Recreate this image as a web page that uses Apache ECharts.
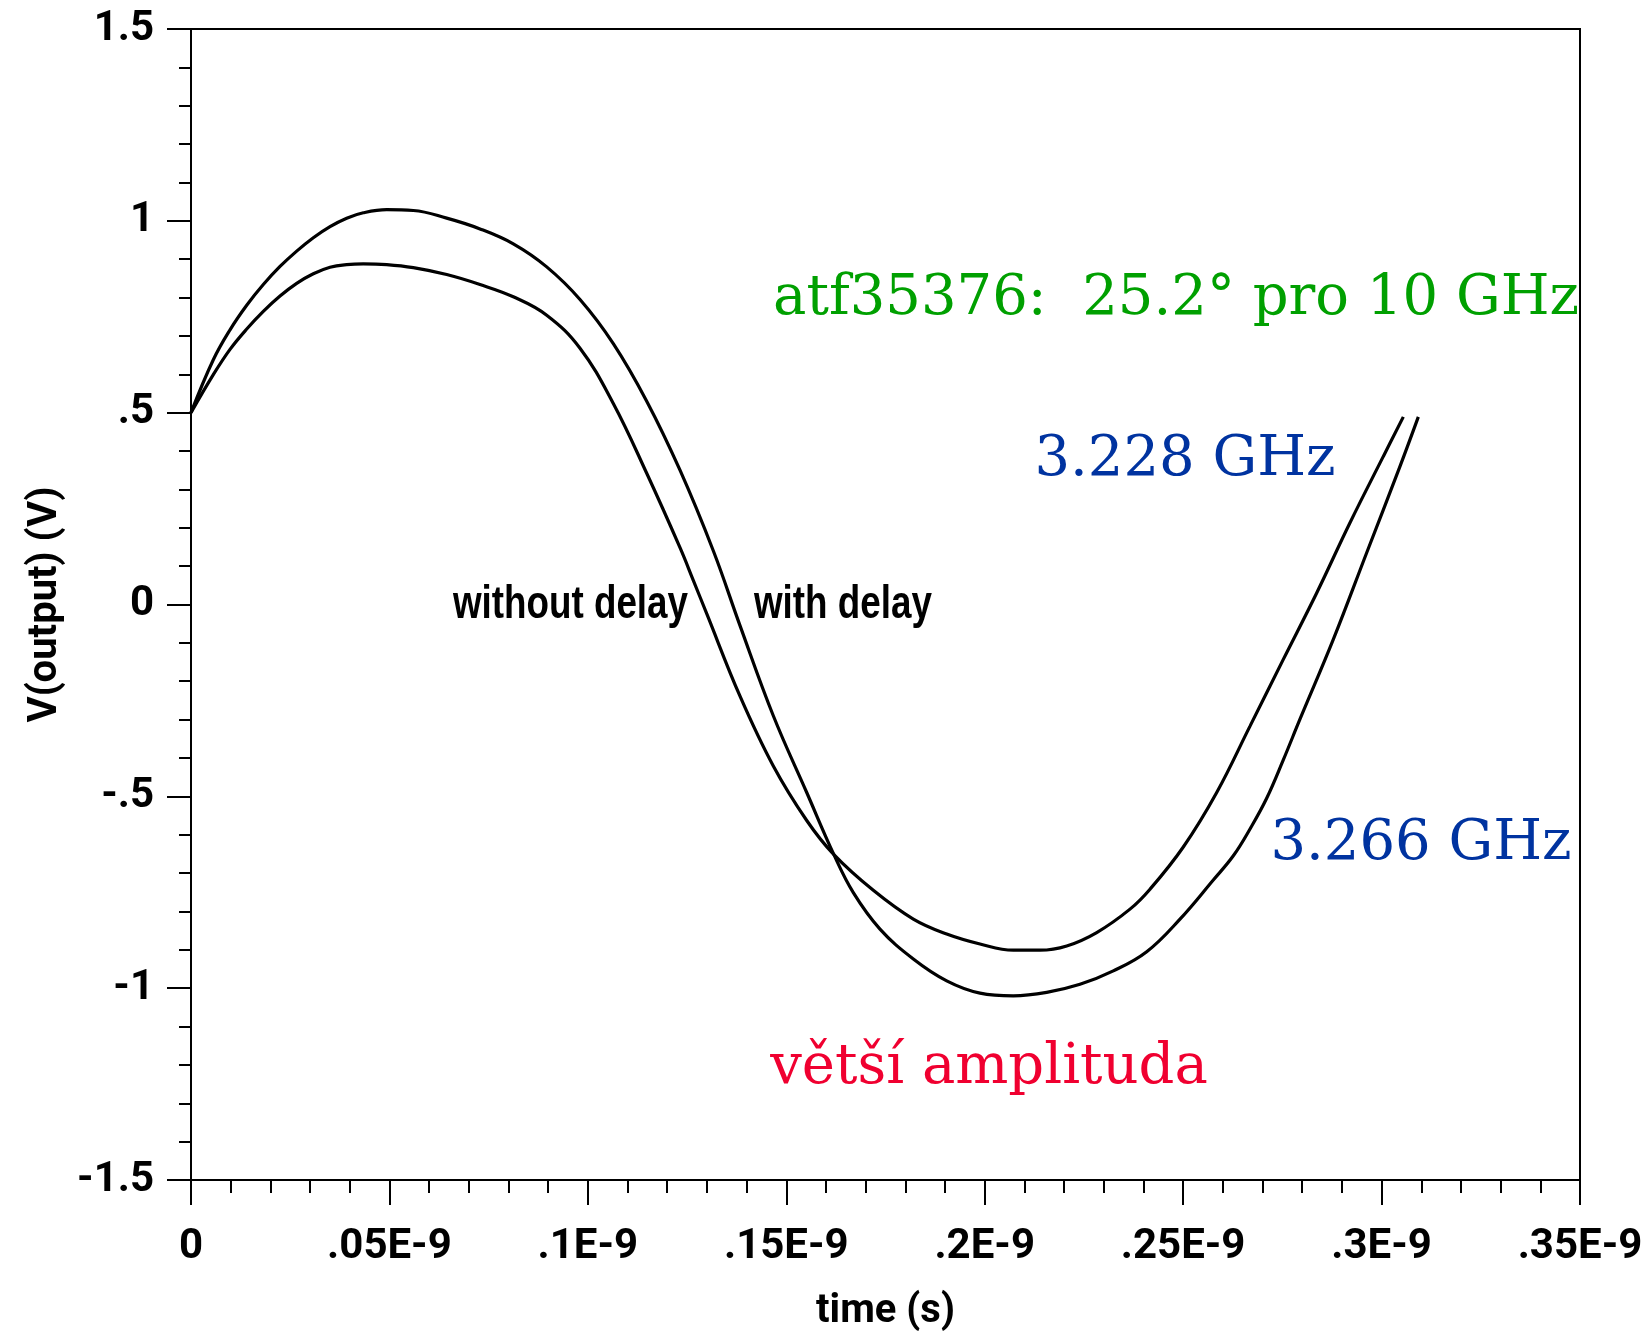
<!DOCTYPE html>
<html>
<head>
<meta charset="utf-8">
<script src="https://cdn.jsdelivr.net/npm/echarts@6/dist/echarts.min.js"></script>
<style>
html,body{margin:0;padding:0;background:#fff;}
#chart{width:1646px;height:1337px;}
</style>
</head>
<body>
<div id="chart"></div>
<script>
// time in units of 1E-9 s
const timeWithout = [0,0.00562,0.00983,0.01404,0.01822,0.02243,0.02663,0.03082,0.03503,0.03923,0.04342,0.04931,0.05602,0.06443,0.07282,0.08121,0.08963,0.09802,0.10641,0.11483,0.12322,0.12657,0.12995,0.13834,0.14673,0.15515,0.16200,0.17193,0.18201,0.19042,0.19881,0.20720,0.21393,0.22066,0.22822,0.23661,0.24165,0.25004,0.25846,0.26685,0.27524,0.28365,0.29204,0.30044,0.30548];
const voltWithout = [0.5,0.599,0.665,0.718,0.764,0.804,0.837,0.862,0.879,0.886,0.888,0.886,0.878,0.860,0.834,0.802,0.754,0.668,0.524,0.342,0.148,0.063,-0.024,-0.239,-0.421,-0.563,-0.652,-0.745,-0.820,-0.859,-0.885,-0.901,-0.901,-0.890,-0.855,-0.794,-0.742,-0.632,-0.490,-0.317,-0.143,0.030,0.213,0.386,0.489];
const timeWith = [0,0.00562,0.00983,0.01404,0.01822,0.02243,0.02663,0.03082,0.03503,0.03923,0.04342,0.04931,0.05602,0.06443,0.07282,0.08121,0.08963,0.09802,0.10641,0.11483,0.12322,0.13161,0.13834,0.14673,0.15515,0.16200,0.16689,0.17361,0.18201,0.19042,0.19881,0.20720,0.21562,0.22401,0.23240,0.24082,0.24921,0.25760,0.26264,0.26685,0.27105,0.27524,0.27944,0.28784,0.29625,0.30464,0.30926];
const voltWith = [0.5,0.638,0.716,0.780,0.834,0.881,0.921,0.956,0.985,1.007,1.021,1.029,1.027,1.007,0.979,0.940,0.880,0.795,0.680,0.530,0.350,0.140,-0.055,-0.290,-0.490,-0.652,-0.751,-0.846,-0.924,-0.981,-1.013,-1.020,-1.011,-0.990,-0.955,-0.905,-0.820,-0.718,-0.655,-0.585,-0.505,-0.405,-0.299,-0.091,0.135,0.360,0.489];

const xTitle = 'time (s)';
const yTitle = 'V(output) (V)';
const seriesNames = ['without delay', 'with delay'];
const annotations = ['atf35376:  25.2° pro 10 GHz', '3.228 GHz', '3.266 GHz', 'větší amplituda'];

const axisFont = "Roboto, 'Liberation Sans', sans-serif";
const boldSans = "'Liberation Sans', Roboto, sans-serif";
const serif = "'DejaVu Serif', 'Liberation Serif', serif";

function pairs(xs, ys){ return xs.map((x,i)=>[x, ys[i]]); }

const chart = echarts.init(document.getElementById('chart'));
chart.setOption({
  animation: false,
  backgroundColor: '#ffffff',
  grid: {left:191, top:29, width:1389, height:1152, show:true, borderColor:'#000', borderWidth:2, containLabel:false},
  xAxis: {
    type:'value', min:0, max:0.35, interval:0.05,
    name: xTitle, nameLocation:'middle', nameGap:112,
    nameTextStyle:{fontFamily:axisFont, fontWeight:'bold', fontSize:40, color:'#000'},
    axisLine:{show:true, onZero:false, lineStyle:{color:'#000', width:2}},
    axisTick:{show:true, inside:false, length:25, lineStyle:{color:'#000', width:2}},
    minorTick:{show:true, splitNumber:5, length:13, lineStyle:{color:'#000', width:2}},
    splitLine:{show:false},
    axisLabel:{margin:46, color:'#000', fontFamily:axisFont, fontWeight:'bold', fontSize:42,
      formatter: v => Math.abs(v) < 1e-12 ? '0' : String(+v.toFixed(2)).replace(/^0\./,'.') + 'E-9'}
  },
  yAxis: {
    type:'value', min:-1.5, max:1.5, interval:0.5,
    name: yTitle, nameLocation:'middle', nameGap:122, nameRotate:90,
    nameTextStyle:{fontFamily:axisFont, fontWeight:'bold', fontSize:40, color:'#000'},
    axisLine:{show:true, onZero:false, lineStyle:{color:'#000', width:2}},
    axisTick:{show:true, inside:false, length:24, lineStyle:{color:'#000', width:2}},
    minorTick:{show:true, splitNumber:5, length:12, lineStyle:{color:'#000', width:2}},
    splitLine:{show:false},
    axisLabel:{margin:37, color:'#000', fontFamily:axisFont, fontWeight:'bold', fontSize:42,
      formatter: v => Math.abs(v) < 1e-12 ? '0' : String(+v.toFixed(2)).replace(/0\./,'.')}
  },
  series: [
    {name:seriesNames[0], type:'line', data:pairs(timeWithout, voltWithout), showSymbol:false, smooth:0.4,
     lineStyle:{color:'#000', width:3.2}},
    {name:seriesNames[1], type:'line', data:pairs(timeWith, voltWith), showSymbol:false, smooth:0.4,
     lineStyle:{color:'#000', width:3.2}}
  ],
  graphic: [
    {type:'text', x:1176, y:327, style:{text:annotations[0], fill:'#00a000', font:"56px "+serif, textAlign:'center', textVerticalAlign:'bottom'}},
    {type:'text', x:1185, y:488, style:{text:annotations[1], fill:'#0033a0', font:"56px "+serif, textAlign:'center', textVerticalAlign:'bottom'}},
    {type:'text', x:1421, y:872, style:{text:annotations[2], fill:'#0033a0', font:"56px "+serif, textAlign:'center', textVerticalAlign:'bottom'}},
    {type:'text', x:989, y:1096, style:{text:annotations[3], fill:'#f00030', font:"56px "+serif, textAlign:'center', textVerticalAlign:'bottom'}},
    {type:'text', x:688, y:605, scaleX:0.8, style:{text:seriesNames[0], fill:'#000', font:"bold 46px "+boldSans, textAlign:'right', textVerticalAlign:'middle'}},
    {type:'text', x:754, y:605, scaleX:0.8, style:{text:seriesNames[1], fill:'#000', font:"bold 46px "+boldSans, textAlign:'left', textVerticalAlign:'middle'}}
  ]
});
</script>
</body>
</html>
